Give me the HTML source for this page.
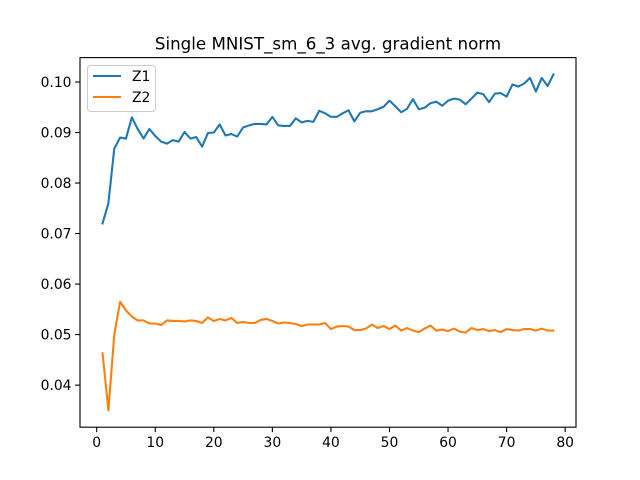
<!DOCTYPE html>
<html><head><meta charset="utf-8"><style>
html,body{margin:0;padding:0;background:#fff;}
svg{display:block;font-family:"DejaVu Sans","Liberation Sans",sans-serif;}
</style></head><body>
<svg id="chart" width="640" height="480" viewBox="0 0 640 480">
<rect width="640" height="480" fill="#fff"/>
<text x="328" y="49.5" text-anchor="middle" font-size="16.7" fill="#000">Single MNIST_sm_6_3 avg. gradient norm</text>
<g id="plot"></g>
</svg>
<script>
const xTicks=[0,10,20,30,40,50,60,70,80];
const yTicks=[0.04,0.05,0.06,0.07,0.08,0.09,0.10];
const yTickLabels=["0.04","0.05","0.06","0.07","0.08","0.09","0.10"];
const z1=[0.0720,0.0760,0.0868,0.0890,0.0888,0.0930,0.0907,0.0888,0.0907,0.0893,0.0882,0.0878,0.0885,0.0882,0.0901,0.0888,0.0891,0.0872,0.0899,0.0900,0.0916,0.0894,0.0897,0.0892,0.0910,0.0914,0.0917,0.0917,0.0916,0.0931,0.0914,0.0913,0.0913,0.0928,0.0920,0.0923,0.0921,0.0943,0.0938,0.0931,0.0931,0.0938,0.0944,0.0922,0.0939,0.0942,0.0942,0.0946,0.0951,0.0963,0.0952,0.0940,0.0947,0.0966,0.0946,0.0949,0.0958,0.0961,0.0953,0.0963,0.0967,0.0965,0.0956,0.0967,0.0979,0.0976,0.0960,0.0977,0.0978,0.0971,0.0995,0.0991,0.0997,0.1008,0.0981,0.1008,0.0992,0.1015];
const z2=[0.0463,0.0350,0.0500,0.0565,0.0548,0.0536,0.0528,0.0528,0.0522,0.0522,0.0519,0.0528,0.0527,0.0527,0.0526,0.0528,0.0527,0.0523,0.0534,0.0527,0.0531,0.0528,0.0533,0.0523,0.0525,0.0523,0.0523,0.0529,0.0531,0.0527,0.0522,0.0524,0.0523,0.0521,0.0517,0.0520,0.0520,0.0520,0.0523,0.0511,0.0516,0.0517,0.0516,0.0509,0.0509,0.0512,0.0520,0.0513,0.0517,0.0511,0.0518,0.0508,0.0513,0.0508,0.0505,0.0512,0.0518,0.0508,0.0510,0.0507,0.0512,0.0506,0.0504,0.0513,0.0509,0.0511,0.0507,0.0509,0.0505,0.0511,0.0509,0.0508,0.0511,0.0511,0.0508,0.0512,0.0508,0.0508];
const seriesNames=["Z1","Z2"];
const colors=["#1f77b4","#ff7f0e"];

const L=80,R=576,T=57.6,B=427.2;
const n=z1.length;
const xmin=1-(n-1)*0.05,xmax=n+(n-1)*0.05;
const all=z1.concat(z2);
const dmin=Math.min(...all),dmax=Math.max(...all),pad=(dmax-dmin)*0.05;
const ymin=dmin-pad,ymax=dmax+pad;
const X=v=>L+(v-xmin)/(xmax-xmin)*(R-L);
const Y=v=>B-(v-ymin)/(ymax-ymin)*(B-T);
const NS="http://www.w3.org/2000/svg";
const g=document.getElementById('plot');
function mk(t,a,p){const e=document.createElementNS(NS,t);for(const k in a)e.setAttribute(k,a[k]);(p||g).appendChild(e);return e;}

[z1,z2].forEach((s,si)=>{
  const d=s.map((v,i)=>(i?'L':'M')+X(i+1).toFixed(2)+','+Y(v).toFixed(2)).join('');
  const p=mk('path',{d:d,fill:'none',stroke:colors[si],'stroke-width':2.08,'stroke-linejoin':'round','stroke-linecap':'square'});
  
  
});

const fr=mk('rect',{x:L,y:T,width:R-L,height:B-T,fill:'none',stroke:'#000','stroke-width':1.1});



xTicks.forEach(t=>{
  const x=X(t);
  const tk=mk('line',{x1:x,x2:x,y1:B,y2:B+4.9,stroke:'#000','stroke-width':1.1});
  
  
  const tx=mk('text',{x:x,y:B+20,'text-anchor':'middle','font-size':13.9,fill:'#000'});
  tx.textContent=t;
  
  
});
yTicks.forEach((t,i)=>{
  const y=Y(t);
  const tk=mk('line',{x1:L-4.9,x2:L,y1:y,y2:y,stroke:'#000','stroke-width':1.1});
  
  
  const tx=mk('text',{x:L-8.5,y:y+5,'text-anchor':'end','font-size':13.9,fill:'#000'});
  tx.textContent=yTickLabels[i];
  
  
});

const lg=mk('g',{});


const lb=mk('rect',{x:87.5,y:65.5,width:68,height:46,rx:3,fill:'#fff','fill-opacity':0.8,stroke:'#ccc','stroke-width':1},lg);


seriesNames.forEach((nm,i)=>{
  const yy=76+i*21;
  const ln=mk('line',{x1:93,x2:121,y1:yy,y2:yy,stroke:colors[i],'stroke-width':2.08},lg);
  
  
  const tx=mk('text',{x:132,y:yy+5,'font-size':13.9,fill:'#000'},lg);
  tx.textContent=nm;
  
  
});
</script>
</body></html>
